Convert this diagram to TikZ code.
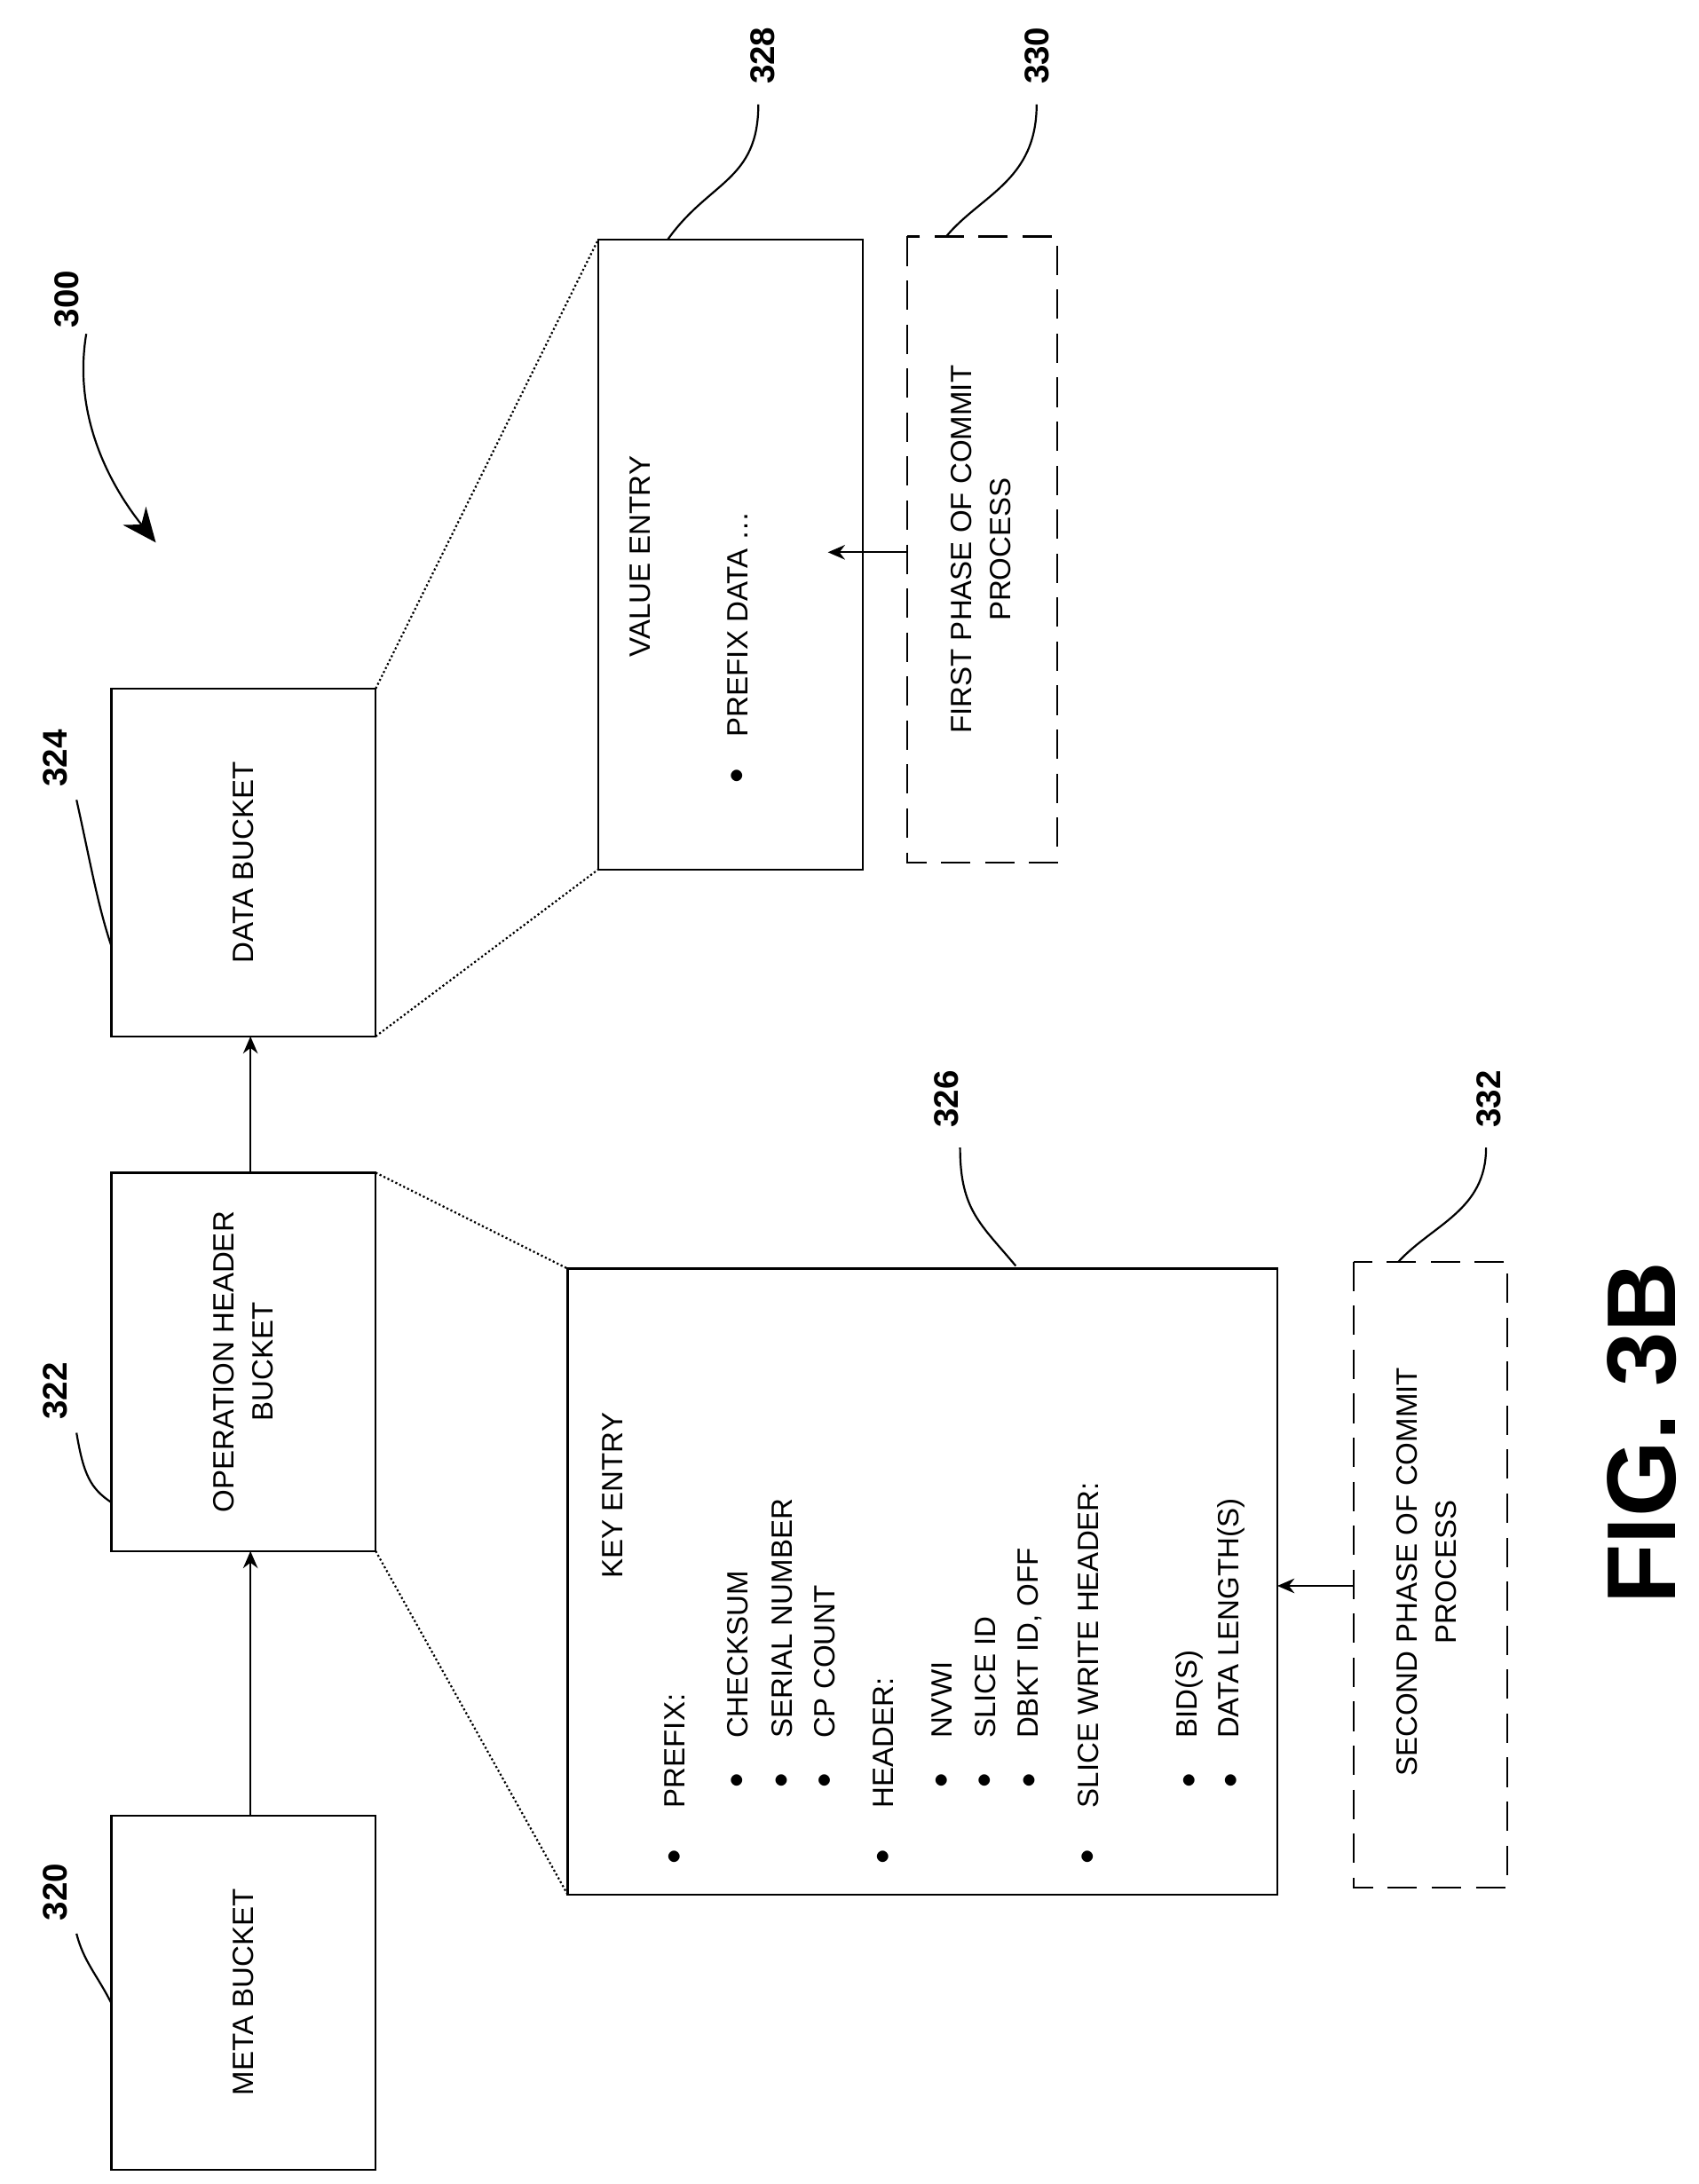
\documentclass[tikz,border=0pt]{standalone}
\usepackage{fontspec}
\setmainfont{Liberation Sans}
\usetikzlibrary{arrows.meta}
\begin{document}
\begin{tikzpicture}[x=0.02cm,y=-0.02cm,
  box/.style={draw, thick},
  dbox/.style={draw, thick, dash pattern=on 12pt off 6pt},
  zoomline/.style={densely dotted, thick},
  txt/.style={rotate=90, font=\fontsize{12}{14}\selectfont, inner sep=0pt},
  num/.style={rotate=90, font=\bfseries\fontsize{14}{16}\selectfont},
  lead/.style={thick},
  arr/.style={thick, -{Stealth[length=7pt,width=6pt]}}]
\useasboundingbox (0,0) rectangle (1221,1570);
% buckets
\draw[box] (80,1305) rectangle (270,1560);
\draw[box] (80,843) rectangle (270,1115);
\draw[box] (80,495) rectangle (270,745);
\node (meta) [txt] at (175,1432) {META BUCKET};
\node (ophdr) [txt, align=center] at (175,979) {OPERATION HEADER\\[2pt]BUCKET};
\node (data) [txt] at (175,620) {DATA BUCKET};
\coordinate (metatop) at (180,1305);
\coordinate (opbot) at (180,1115);
\coordinate (optop) at (180,843);
\coordinate (databot) at (180,745);
\draw[arr] (metatop) -- (opbot);
\draw[arr] (optop) -- (databot);
% entries
\draw[box] (430,172) rectangle (620,625);
\draw[box] (408,912) rectangle (918,1362);
\draw[zoomline] (270,495) -- (430,172);
\draw[zoomline] (270,745) -- (430,625);
\draw[zoomline] (270,843) -- (408,912);
\draw[zoomline] (270,1115) -- (408,1362);
\node (valent) [txt] at (460,400) {VALUE ENTRY};
\node (vb) [txt] at (530,558) {$\bullet$};
\node (pfxdata) [txt, anchor=south west] at (538,530) {PREFIX DATA \dots};
\node (keyent) [txt] at (440,1075) {KEY ENTRY};
\foreach \x/\t in {485/PREFIX:, 635/HEADER:, 782/SLICE WRITE HEADER:} {
  \node [txt] at (\x,1335) {$\bullet$};
  \node [txt, anchor=west] at (\x,1300) {\t};
}
\foreach \x/\t in {530/CHECKSUM, 562/SERIAL NUMBER, 593/CP COUNT, 677/NVWI, 708/SLICE ID, 740/{DBKT ID, OFF}, 855/BID(S), 885/DATA LENGTH(S)} {
  \node [txt] at (\x,1280) {$\bullet$};
  \node [txt, anchor=west] at (\x,1250) {\t};
}
% commit phases
\draw[dbox] (652,170) rectangle (760,620);
\draw[dbox] (973,907) rectangle (1083,1357);
\node (first) [txt, align=center] at (705,395) {FIRST PHASE OF COMMIT\\[2pt]PROCESS};
\node (second) [txt, align=center] at (1025,1130) {SECOND PHASE OF COMMIT\\[2pt]PROCESS};
\coordinate (f1) at (652,397);
\coordinate (f2) at (595,397);
\coordinate (s1) at (973,1140);
\coordinate (s2) at (918,1140);
\draw[arr] (f1) -- (f2);
\draw[arr] (s1) -- (s2);
% reference numerals
\node (n300) [num] at (48,215) {300};
\node (n320) [num] at (40,1360) {320};
\node (n322) [num] at (40,1000) {322};
\node (n324) [num] at (40,545) {324};
\node (n326) [num] at (680,790) {326};
\node (n328) [num] at (548,40) {328};
\node (n330) [num] at (745,40) {330};
\node (n332) [num] at (1070,790) {332};
\draw[lead] (55,1390) .. controls (60,1410) and (70,1420) .. (80,1440);
\draw[lead] (55,1030) .. controls (60,1060) and (65,1070) .. (80,1080);
\draw[lead] (55,575) .. controls (65,620) and (70,650) .. (80,680);
\draw[lead] (690,825) .. controls (690,870) and (705,880) .. (730,910);
\draw[lead] (545,75) .. controls (545,130) and (510,130) .. (480,172);
\draw[lead] (745,75) .. controls (745,130) and (705,140) .. (680,170);
\draw[lead] (1068,825) .. controls (1068,870) and (1030,880) .. (1005,907);
\draw[thick, -{Stealth[length=14pt,width=12pt]}] (62,240) .. controls (52,300) and (80,350) .. (112,390);
\node (fig) [rotate=90, font=\bfseries\fontsize{40}{44}\selectfont] at (1180,1030) {FIG. 3B};
\end{tikzpicture}
\end{document}
